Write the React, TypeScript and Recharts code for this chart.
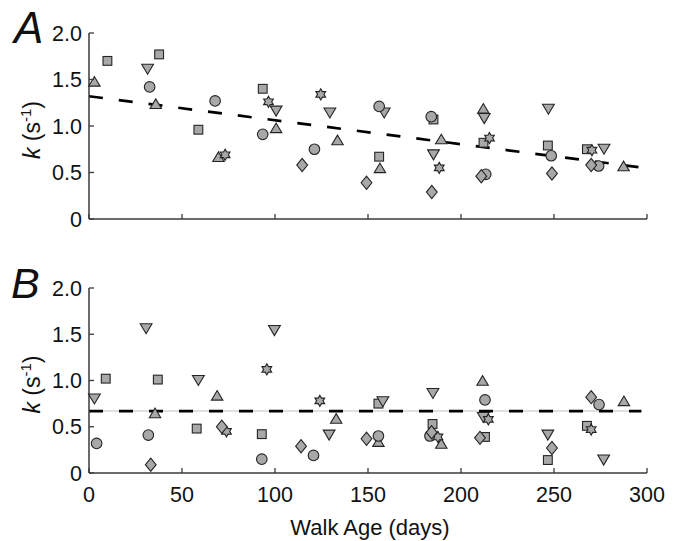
import React from 'react';
import { ScatterChart, Scatter, XAxis, YAxis, ReferenceLine } from 'recharts';

const FONT = "'Liberation Sans', Arial, Helvetica, sans-serif";
const FILL = '#a8a8a8';
const EDGE = '#242424';
const AXIS = '#3a3a3a';

const xTicks = [0, 50, 100, 150, 200, 250, 300];
const xTickLabels = ['0', '50', '100', '150', '200', '250', '300'];
const yTicks = [0, 0.5, 1, 1.5, 2];
const yTickLabels = ['0', '0.5', '1.0', '1.5', '2.0'];

// Panel A: [walk age (days), k (1/s)]
const squaresA = [[9.9, 1.7], [37.7, 1.77], [58.8, 0.96], [93.4, 1.4], [156, 0.67], [185.2, 1.07], [212.1, 0.82], [246.7, 0.79], [267.7, 0.75]];
const trianglesA = [[2.9, 1.48], [35.9, 1.24], [69.6, 0.67], [100.6, 0.98], [133.6, 0.85], [156.4, 0.55], [189.4, 0.86], [212, 1.19], [287.4, 0.57]];
const invTrianglesA = [[31.5, 1.61], [100.6, 1.16], [129.5, 1.14], [158.7, 1.14], [185.2, 0.69], [212.5, 1.08], [247, 1.18], [276.9, 0.75]];
const circlesA = [[32.6, 1.42], [67.8, 1.27], [93.4, 0.91], [121.2, 0.75], [156, 1.21], [184, 1.1], [213.3, 0.48], [248.5, 0.68], [274, 0.57]];
const starsA = [[73.2, 0.69], [96.5, 1.26], [124.6, 1.34], [188.3, 0.55], [215.3, 0.87], [270.4, 0.74]];
const diamondsA = [[114.6, 0.58], [149.2, 0.39], [184.3, 0.29], [210.9, 0.46], [248.9, 0.49], [270, 0.58]];
const fitA = [[0, 1.32], [297, 0.554]];

// Panel B
const squaresB = [[9, 1.02], [37, 1.01], [57.9, 0.48], [92.9, 0.42], [155.6, 0.75], [184.7, 0.53], [212.9, 0.39], [246.7, 0.14], [267.7, 0.51]];
const trianglesB = [[35.5, 0.65], [68.9, 0.84], [132.9, 0.59], [155.6, 0.34], [189.4, 0.32], [211.6, 1.0], [287.6, 0.78]];
const invTrianglesB = [[2.9, 0.8], [30.7, 1.56], [58.8, 1.0], [99.7, 1.54], [129.1, 0.41], [158, 0.77], [184.9, 0.86], [212, 0.6], [246.7, 0.41], [276.7, 0.14]];
const circlesB = [[4.1, 0.32], [31.9, 0.41], [92.9, 0.15], [120.7, 0.19], [155.6, 0.4], [183.3, 0.4], [212.9, 0.79], [274.2, 0.74]];
const starsB = [[73.9, 0.45], [95.6, 1.12], [124.1, 0.78], [187.6, 0.39], [214.7, 0.58], [270, 0.47]];
const diamondsB = [[33.2, 0.09], [71.4, 0.5], [114, 0.29], [149.2, 0.37], [184.2, 0.44], [210.2, 0.38], [248.9, 0.27], [270, 0.82]];
const fitB = [[0, 0.67], [297, 0.67]];

const toPts = (arr: number[][]) => arr.map(([x, y]) => ({ x, y }));

type Kind = 'square' | 'triangle' | 'invtriangle' | 'circle' | 'hexagram' | 'diamond';

function Marker({ kind, cx, cy }: { kind: Kind; cx?: number; cy?: number }) {
  if (cx == null || cy == null || isNaN(cx) || isNaN(cy)) return null;
  const common = { fill: FILL, stroke: EDGE, strokeWidth: 1.1 };
  switch (kind) {
    case 'circle':
      return <circle cx={cx} cy={cy} r={5.3} {...common} />;
    case 'square':
      return <rect x={cx - 4.4} y={cy - 4.4} width={8.8} height={8.8} {...common} />;
    case 'triangle': {
      const w = 5.7, h = 4.8;
      return <polygon points={`${cx - w},${cy + h} ${cx + w},${cy + h} ${cx},${cy - h}`} {...common} />;
    }
    case 'invtriangle': {
      const w = 5.9, h = 5.0;
      return <polygon points={`${cx - w},${cy - h} ${cx + w},${cy - h} ${cx},${cy + h}`} {...common} />;
    }
    case 'diamond': {
      const w = 5.4, h = 6.6;
      return <polygon points={`${cx},${cy - h} ${cx + w},${cy} ${cx},${cy + h} ${cx - w},${cy}`} {...common} />;
    }
    case 'hexagram': {
      const R = 5.6, r = 3.2;
      const pts: string[] = [];
      for (let i = 0; i < 12; i++) {
        const a = -Math.PI / 2 + (i * Math.PI) / 6;
        const rad = i % 2 === 0 ? R : r;
        pts.push(`${cx + rad * Math.cos(a)},${cy + rad * Math.sin(a)}`);
      }
      return <polygon points={pts.join(' ')} {...common} />;
    }
  }
  return null;
}

function XTick(props: any) {
  const { x, y, payload, show } = props;
  const idx = xTicks.indexOf(payload.value);
  return (
    <g>
      <line x1={x} x2={x} y1={y} y2={y - 5} stroke={AXIS} strokeWidth={1.3} />
      {show && (
        <text x={x} y={y + 29} textAnchor="middle" fontFamily={FONT} fontSize={21.5} fill="#111">
          {xTickLabels[idx]}
        </text>
      )}
    </g>
  );
}

function YTick(props: any) {
  const { x, y, payload } = props;
  const idx = yTicks.indexOf(payload.value);
  return (
    <g>
      <line x1={x} x2={x + 5} y1={y} y2={y} stroke={AXIS} strokeWidth={1.3} />
      <text x={x - 7} y={y} dy="0.36em" textAnchor="end" fontFamily={FONT} fontSize={21.5} fill="#111">
        {yTickLabels[idx]}
      </text>
    </g>
  );
}

function YLabel(props: any) {
  const vb = props.viewBox || { x: 29, y: 33, width: 60, height: 186 };
  const cx = vb.x + 11;
  const cy = vb.y + vb.height / 2 + 4;
  return (
    <text x={cx} y={cy} transform={`rotate(-90 ${cx} ${cy})`} textAnchor="middle" fontFamily={FONT} fontSize={23} fill="#111">
      <tspan fontStyle="italic">k</tspan>
      <tspan> (s</tspan>
      <tspan dy={-9} fontSize={15}>-1</tspan>
      <tspan dy={9}>)</tspan>
    </text>
  );
}

function XLabel(props: any) {
  const vb = props.viewBox || { x: 89, y: 218, width: 558, height: 68 };
  return (
    <text x={vb.x + vb.width / 2 + 2} y={vb.y + 62} textAnchor="middle" fontFamily={FONT} fontSize={22} fill="#111">
      Walk Age (days)
    </text>
  );
}

type SeriesDef = { kind: Kind; data: number[][] };

function Panel({ series, fit, guide, showX, height, xAxisHeight }: { series: SeriesDef[]; fit: number[][]; guide: boolean; showX: boolean; height: number; xAxisHeight: number }) {
  const seg = toPts(fit) as any;
  return (
    <ScatterChart width={681} height={height} margin={{ top: 33, right: 34, left: 29, bottom: 0 }}>
      <XAxis
        type="number"
        dataKey="x"
        domain={[0, 300]}
        ticks={xTicks}
        interval={0}
        tickSize={0}
        tickMargin={0}
        tickLine={false}
        axisLine={{ stroke: AXIS, strokeWidth: 1.5 }}
        tick={(p: any) => <XTick {...p} show={showX} />}
        height={xAxisHeight}
        label={showX ? <XLabel /> : undefined}
      />
      <YAxis
        type="number"
        dataKey="y"
        domain={[0, 2]}
        ticks={yTicks}
        interval={0}
        width={60}
        tickSize={0}
        tickMargin={0}
        tickLine={false}
        axisLine={{ stroke: AXIS, strokeWidth: 1.5 }}
        tick={(p: any) => <YTick {...p} />}
        label={<YLabel />}
      />
      {guide && <ReferenceLine segment={seg} stroke="#e0e0e0" strokeWidth={2} />}
      {series.map((s, i) => (
        <Scatter
          key={i}
          data={toPts(s.data)}
          isAnimationActive={false}
          shape={(p: any) => <Marker kind={s.kind} cx={p.cx} cy={p.cy} />}
        />
      ))}
      <ReferenceLine segment={seg} stroke="#000" strokeWidth={2.7} strokeDasharray="14 16" />
    </ScatterChart>
  );
}

const seriesA: SeriesDef[] = [
  { kind: 'square', data: squaresA },
  { kind: 'triangle', data: trianglesA },
  { kind: 'invtriangle', data: invTrianglesA },
  { kind: 'circle', data: circlesA },
  { kind: 'hexagram', data: starsA },
  { kind: 'diamond', data: diamondsA },
];
const seriesB: SeriesDef[] = [
  { kind: 'square', data: squaresB },
  { kind: 'triangle', data: trianglesB },
  { kind: 'invtriangle', data: invTrianglesB },
  { kind: 'circle', data: circlesB },
  { kind: 'hexagram', data: starsB },
  { kind: 'diamond', data: diamondsB },
];

export default function App() {
  return (
    <div style={{ position: 'absolute', left: 0, top: 0, width: 681, height: 541, background: '#fff' }}>
      <div style={{ position: 'absolute', left: 0, top: 0 }}>
        <Panel series={seriesA} fit={fitA} guide={false} showX={false} height={250} xAxisHeight={31} />
      </div>
      <div style={{ position: 'absolute', left: 0, top: 255 }}>
        <Panel series={seriesB} fit={fitB} guide={true} showX={true} height={286} xAxisHeight={68} />
      </div>
      <svg width={681} height={541} style={{ position: 'absolute', left: 0, top: 0, pointerEvents: 'none' }}>
        <text x={14} y={43} fontFamily={FONT} fontSize={44} fontStyle="italic" fill="#111">A</text>
        <text x={11} y={298} fontFamily={FONT} fontSize={43} fontStyle="italic" fill="#111">B</text>
      </svg>
    </div>
  );
}
